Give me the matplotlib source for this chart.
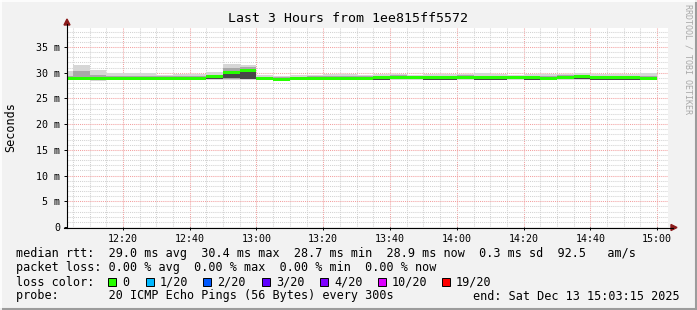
import numpy as np
import matplotlib
matplotlib.use('Agg')
import matplotlib.pyplot as plt
from matplotlib.lines import Line2D
from matplotlib.patches import Rectangle, Polygon

W, H = 697, 310
MONO = 'DejaVu Sans Mono'

# 5 minute bins, minutes after 12:00; graph window is 12:03:15 - 15:03:15
step = 5
view_start, view_end = 3.25, 183.25

median = [28.9, 28.9, 28.8, 28.9, 28.9, 28.9, 28.9, 28.8, 28.9, 29.2, 30.1, 30.4,
          28.8, 28.7, 28.8, 28.9, 28.9, 28.8, 28.9, 29.0, 29.1, 29.1, 29.0, 29.0,
          29.1, 29.0, 29.0, 29.1, 29.0, 28.9, 29.1, 29.2, 29.0, 29.0, 29.0, 28.9]
ping_max = [30.3, 31.6, 30.5, 30.0, 30.0, 29.9, 29.6, 29.7, 29.8, 30.1, 31.7, 31.6,
            29.6, 29.4, 29.5, 29.5, 29.7, 29.7, 29.6, 29.8, 29.7, 29.6, 29.8, 29.7,
            29.7, 29.9, 29.8, 29.6, 29.7, 29.8, 29.8, 29.9, 29.7, 29.8, 29.8, 29.9]
ping_min = [28.5, 28.5, 28.4, 28.5, 28.6, 28.6, 28.5, 28.6, 28.6, 28.6, 28.6, 28.6,
            28.5, 28.3, 28.5, 28.6, 28.6, 28.6, 28.5, 28.6, 28.5, 28.6, 28.6, 28.6,
            28.5, 28.5, 28.6, 28.5, 28.6, 28.5, 28.6, 28.6, 28.5, 28.6, 28.6, 28.5]
quart_hi = [29.4, 30.3, 29.6, 29.4, 29.3, 29.3, 29.3, 29.3, 29.3, 29.5, 31.0, 31.1,
            29.2, 29.1, 29.2, 29.3, 29.3, 29.3, 29.3, 29.4, 29.5, 29.4, 29.4, 29.4,
            29.5, 29.4, 29.4, 29.4, 29.4, 29.4, 29.5, 29.5, 29.4, 29.4, 29.4, 29.4]
quart_lo = [28.7, 28.6, 28.6, 28.6, 28.7, 28.7, 28.6, 28.7, 28.7, 28.8, 28.8, 28.8,
            28.6, 28.5, 28.6, 28.7, 28.7, 28.6, 28.7, 28.7, 28.8, 28.8, 28.7, 28.7,
            28.8, 28.7, 28.7, 28.8, 28.7, 28.6, 28.8, 28.9, 28.7, 28.7, 28.7, 28.6]
core_hi = [29.0, 29.0, 28.9, 29.0, 29.0, 29.0, 29.0, 28.9, 29.0, 29.3, 30.2, 30.4,
           28.9, 28.8, 28.9, 29.0, 29.0, 28.9, 29.0, 29.1, 29.2, 29.2, 29.1, 29.1,
           29.2, 29.1, 29.1, 29.2, 29.1, 29.0, 29.2, 29.3, 29.1, 29.1, 29.1, 29.0]
core_lo = [28.5, 28.5, 28.5, 28.5, 28.6, 28.6, 28.5, 28.5, 28.6, 28.8, 28.9, 28.8,
           28.5, 28.4, 28.5, 28.6, 28.6, 28.5, 28.6, 28.6, 28.7, 28.7, 28.6, 28.6,
           28.7, 28.6, 28.6, 28.7, 28.6, 28.5, 28.7, 28.8, 28.6, 28.6, 28.6, 28.5]

x_ticks = [20, 40, 60, 80, 100, 120, 140, 160, 180]
x_labels = ['12:20', '12:40', '13:00', '13:20', '13:40', '14:00', '14:20', '14:40', '15:00']
y_ticks = [0, 5, 10, 15, 20, 25, 30, 35]
y_labels = ['0', '5 m', '10 m', '15 m', '20 m', '25 m', '30 m', '35 m']

loss_labels = ['0', '1/20', '2/20', '3/20', '4/20', '10/20', '19/20']
loss_colors = ['#26ff00', '#00b8ff', '#0059ff', '#5e00ff', '#7e00ff', '#dd00ff', '#ff0000']

title = 'Last 3 Hours from 1ee815ff5572'
stats_rtt = ('median rtt:  29.0 ms avg  30.4 ms max  28.7 ms min  '
             '28.9 ms now  0.3 ms sd  92.5   am/s')
stats_loss = 'packet loss: 0.00 % avg  0.00 % max  0.00 % min  0.00 % now'
probe_txt = 'probe:       20 ICMP Echo Pings (56 Bytes) every 300s'
end_txt = 'end: Sat Dec 13 15:03:15 2025'


def fx(px):
    return px / W


def fy(py):
    return 1 - py / H


fig = plt.figure(figsize=(W / 100, H / 100), dpi=100, facecolor='#f2f2f2')

# plot area in pixels: left 67, right 668, top 28, bottom 227
ax = fig.add_axes([fx(67), fy(227), fx(668) - fx(67), fy(28) - fy(227)])
ax.set_facecolor('white')
ax.set_xlim(view_start, view_end)
ax.set_ylim(0, 38.7)

edges = np.arange(len(median)) * step
med = np.array(median)

ax.bar(edges, np.array(ping_max) - np.array(ping_min), bottom=ping_min,
       width=step, align='edge', color='#d6d6d6', linewidth=0, zorder=2)
ax.bar(edges, np.array(quart_hi) - np.array(quart_lo), bottom=quart_lo,
       width=step, align='edge', color='#a8a8a8', linewidth=0, zorder=3)
ax.bar(edges, np.array(core_hi) - np.array(core_lo), bottom=core_lo,
       width=step, align='edge', color='#484848', linewidth=0, zorder=4)
ax.bar(edges, 0.6, bottom=med - 0.3, width=step, align='edge',
       color=loss_colors[0], linewidth=0, zorder=5)

ax.set_xticks(x_ticks)
ax.set_xticklabels(x_labels)
ax.set_xticks(np.arange(5, 185, 5), minor=True)
ax.set_yticks(y_ticks)
ax.set_yticklabels(y_labels)
ax.set_yticks(np.arange(1, 39, 1), minor=True)

dots = (0, (1, 1))
ax.grid(which='minor', color='#d2d2d2', linestyle=dots, linewidth=0.75, zorder=1)
ax.grid(which='major', color='#f2a0a0', linestyle=dots, linewidth=0.75, zorder=1)
ax.set_axisbelow(True)

for s in ax.spines.values():
    s.set_visible(False)
ax.tick_params(which='major', length=2, width=0.7, color='black', pad=3,
               labelsize=7.2)
ax.tick_params(which='minor', length=0)
for lbl in ax.get_xticklabels() + ax.get_yticklabels():
    lbl.set_family(MONO)

# axis lines with arrow heads
fig.add_artist(Line2D([fx(67), fx(67)], [fy(227.5), fy(24)], color='black',
                      lw=0.8))
fig.add_artist(Line2D([fx(64), fx(673)], [fy(227.5), fy(227.5)], color='black',
                      lw=0.8))
fig.add_artist(Polygon([[fx(64), fy(25)], [fx(70), fy(25)], [fx(67), fy(19)]],
                       closed=True, color='#8b1a1a', transform=fig.transFigure))
fig.add_artist(Polygon([[fx(671), fy(224.5)], [fx(671), fy(230.5)],
                        [fx(677), fy(227.5)]],
                       closed=True, color='#8b1a1a', transform=fig.transFigure))

fig.text(fx(348), fy(19), title, ha='center', va='center', family=MONO,
         fontsize=9.5)
fig.text(fx(11), fy(127), 'Seconds', ha='center', va='center', rotation=90,
         family=MONO, fontsize=8.5)
fig.text(fx(688), fy(4), 'RRDTOOL / TOBI OETIKER', ha='center', va='top',
         rotation=270, family=MONO, fontsize=6, color='#a8a8a8')

fs = 8.5
fig.text(fx(16), fy(254), stats_rtt, ha='left', va='center', family=MONO,
         fontsize=fs)
fig.text(fx(16), fy(268), stats_loss, ha='left', va='center', family=MONO,
         fontsize=fs)
fig.text(fx(16), fy(282), 'loss color:', ha='left', va='center', family=MONO,
         fontsize=fs)
fig.text(fx(16), fy(296), probe_txt, ha='left', va='center', family=MONO,
         fontsize=fs)
fig.text(fx(680), fy(296), end_txt, ha='right', va='center', family=MONO,
         fontsize=fs)

square_x = [108, 146, 203, 262, 320, 378, 442]
for sx, col, lab in zip(square_x, loss_colors, loss_labels):
    fig.add_artist(Rectangle((fx(sx), fy(286)), fx(8), 8 / H, facecolor=col,
                             edgecolor='black', linewidth=0.7,
                             transform=fig.transFigure))
    fig.text(fx(sx + 14), fy(282), lab, ha='left', va='center', family=MONO,
             fontsize=fs)

# rrdtool style frame
fig.add_artist(Line2D([0, 1], [fy(309), fy(309)], color='#9c9c9c', lw=1.5))
fig.add_artist(Line2D([fx(696), fx(696)], [0, 1], color='#9c9c9c', lw=1.5))
fig.add_artist(Line2D([0, 1], [fy(0.5), fy(0.5)], color='#ffffff', lw=1.2))
fig.add_artist(Line2D([fx(0.5), fx(0.5)], [0, 1], color='#ffffff', lw=1.2))

fig.savefig('out.png', dpi=100, facecolor=fig.get_facecolor())
